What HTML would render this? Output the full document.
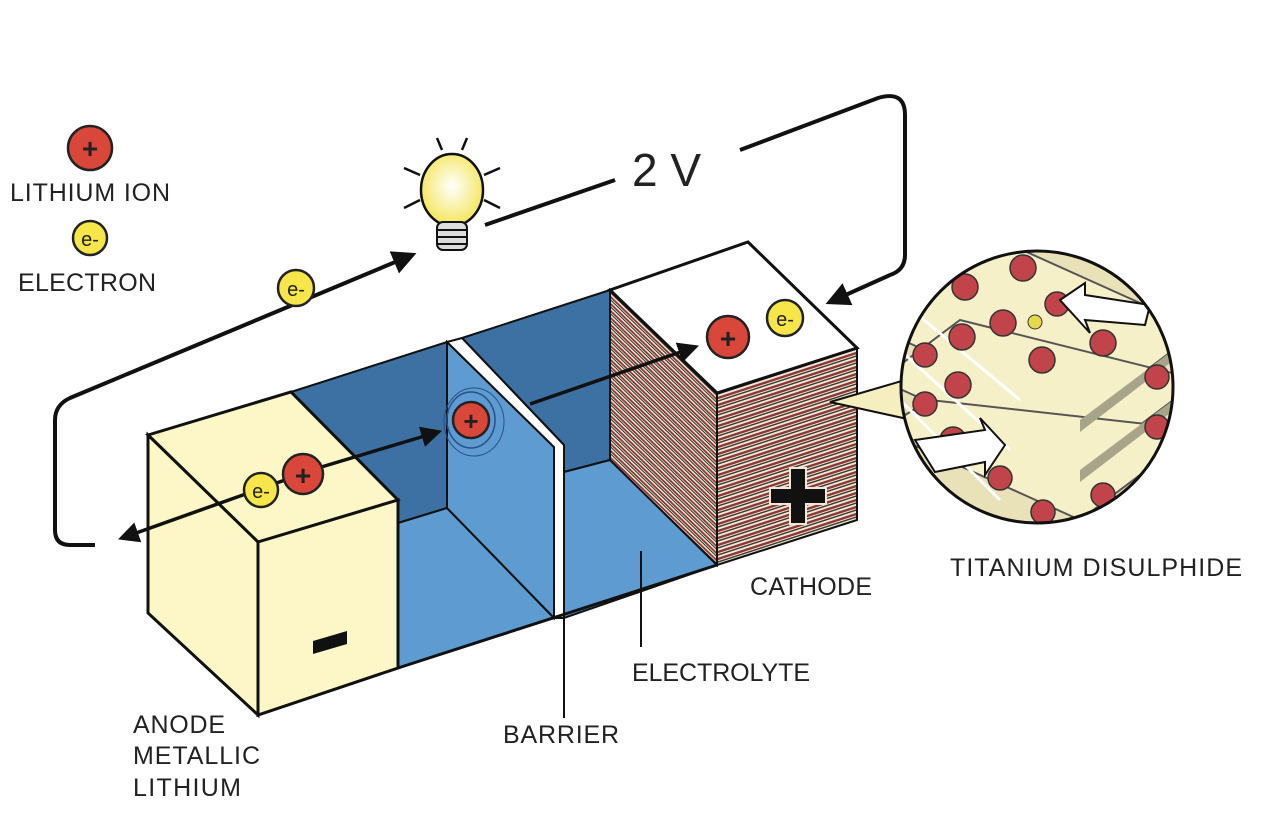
<!DOCTYPE html>
<html><head><meta charset="utf-8"><style>
html,body{margin:0;padding:0;background:#fff;}
svg{display:block;}
text{font-family:"Liberation Sans",sans-serif;fill:#222;}
</style></head><body>
<svg width="1279" height="825" viewBox="0 0 1279 825" xmlns="http://www.w3.org/2000/svg">
<defs>
<pattern id="hstripe" width="8" height="7" patternUnits="userSpaceOnUse" patternTransform="skewY(-18)">
<rect width="8" height="7" fill="#f3e6d8"/><rect y="0" width="8" height="2.5" fill="#8a3a33"/><rect y="3.5" width="8" height="1.5" fill="#3a3a2e"/>
</pattern>
<pattern id="dstripe" width="8" height="7" patternUnits="userSpaceOnUse" patternTransform="skewY(44)">
<rect width="8" height="7" fill="#f3e6d8"/><rect y="0" width="8" height="2.5" fill="#8a3a33"/><rect y="3.5" width="8" height="1.5" fill="#3a3a2e"/>
</pattern>
<marker id="ah" viewBox="0 0 10 10" refX="8" refY="5" markerWidth="6" markerHeight="6" orient="auto-start-reverse"><path d="M0,0 L10,5 L0,10 z" fill="#111"/></marker>
<radialGradient id="bulb" cx="0.5" cy="0.45" r="0.55"><stop offset="0" stop-color="#fff"/><stop offset="1" stop-color="#f4e65a"/></radialGradient>
<clipPath id="mag"><circle cx="1037" cy="387" r="136"/></clipPath>
</defs>

<!-- legend -->
<circle cx="90" cy="148" r="22" fill="#d8473a" stroke="#222" stroke-width="2.5"/>
<text x="90" y="158" font-size="28" text-anchor="middle" font-weight="bold" style="fill:#222">+</text>
<text x="10" y="201" font-size="25" textLength="160">LITHIUM ION</text>
<circle cx="90" cy="238" r="17" fill="#f6e64a" stroke="#222" stroke-width="2.5"/>
<text x="90" y="246" font-size="20" text-anchor="middle">e-</text>
<text x="18" y="291" font-size="25" textLength="138">ELECTRON</text>

<!-- circuit -->
<path d="M95,545 L70,545 Q55,545 55,530 L55,420 Q55,405 70,398 L412,255" fill="none" stroke="#111" stroke-width="4" marker-end="url(#ah)"/>
<path d="M485,225 L615,180" fill="none" stroke="#111" stroke-width="4"/>
<text x="632" y="186" font-size="46">2 V</text>
<path d="M740,150 L878,98 Q905,90 905,115 L905,255 Q905,270 890,275 L830,302" fill="none" stroke="#111" stroke-width="4" marker-end="url(#ah)"/>
<circle cx="296" cy="288" r="18" fill="#f6e64a" stroke="#222" stroke-width="2.5"/>
<text x="296" y="296" font-size="20" text-anchor="middle">e-</text>

<!-- bulb -->
<g stroke="#111" stroke-width="2.5">
<line x1="442" y1="150" x2="437" y2="138"/><line x1="462" y1="150" x2="467" y2="138"/>
<line x1="420" y1="175" x2="404" y2="168"/><line x1="484" y1="175" x2="500" y2="168"/>
<line x1="420" y1="200" x2="404" y2="208"/><line x1="484" y1="200" x2="500" y2="208"/>
</g>
<ellipse cx="452" cy="190" rx="31" ry="36" fill="url(#bulb)" stroke="#111" stroke-width="2.5"/>
<rect x="437" y="222" width="30" height="28" rx="6" fill="#ddd" stroke="#111" stroke-width="2"/>
<g stroke="#111" stroke-width="2"><line x1="437" y1="230" x2="467" y2="230"/><line x1="437" y1="237" x2="467" y2="237"/><line x1="437" y1="244" x2="467" y2="244"/></g>

<!-- electrolyte compartments -->
<polygon points="291,392 447,342 447,508 398,523" fill="#3d70a3" stroke="#111" stroke-width="2"/>
<polygon points="398,523 447,508 554,618 398,668" fill="#5d9bd1" stroke="#111" stroke-width="2"/>
<polygon points="462,338 610,290 610,460 564,472 564,445" fill="#3d70a3" stroke="#111" stroke-width="2"/>
<polygon points="564,472 610,460 717,565 564,618" fill="#5d9bd1" stroke="#111" stroke-width="2"/>
<!-- barrier -->
<polygon points="447,342 554,447 554,618 447,508" fill="#5d9bd1" stroke="#111" stroke-width="2"/>
<polygon points="447,342 462,338 564,445 564,618 554,618 554,447" fill="#fff" stroke="#111" stroke-width="2"/>
<ellipse cx="471" cy="420" rx="24" ry="28" fill="none" stroke="#2a4f86" stroke-width="1.5"/>
<ellipse cx="474" cy="422" rx="30" ry="34" fill="none" stroke="#2a4f86" stroke-width="1"/>

<!-- cathode -->
<polygon points="610,290 717,393 717,565 610,460" fill="url(#dstripe)" stroke="#111" stroke-width="2"/>
<polygon points="717,393 857,348 857,520 717,565" fill="url(#hstripe)" stroke="#111" stroke-width="2"/>
<polygon points="610,290 748,242 857,348 717,393" fill="#fff" stroke="#111" stroke-width="3"/>
<path d="M790,468 h16 v20 h20 v16 h-20 v20 h-16 v-20 h-20 v-16 h20z" fill="#111" stroke="#f3e6d8" stroke-width="2"/>

<!-- anode -->
<polygon points="148,435 291,392 398,500 258,542" fill="#fdf6c6" stroke="#111" stroke-width="3"/>
<polygon points="148,435 258,542 258,715 148,613" fill="#fdf6c6" stroke="#111" stroke-width="3"/>
<polygon points="258,542 398,500 398,668 258,715" fill="#fdf6c6" stroke="#111" stroke-width="3"/>
<polygon points="313,641 347,631 347,644 313,654" fill="#111"/>
<line x1="398" y1="668" x2="717" y2="565" stroke="#111" stroke-width="3"/>

<!-- arrows through cell -->
<line x1="285" y1="480" x2="122" y2="538" stroke="#111" stroke-width="3.5" marker-end="url(#ah)"/>
<line x1="318" y1="468" x2="438" y2="432" stroke="#111" stroke-width="3.5" marker-end="url(#ah)"/>
<line x1="530" y1="404" x2="695" y2="347" stroke="#111" stroke-width="3.5" marker-end="url(#ah)"/>

<!-- particles -->
<circle cx="261" cy="490" r="17" fill="#f6e64a" stroke="#222" stroke-width="2.5"/>
<text x="261" y="498" font-size="20" text-anchor="middle">e-</text>
<circle cx="303" cy="474" r="20" fill="#d8473a" stroke="#222" stroke-width="2.5"/>
<text x="303" y="485" font-size="28" text-anchor="middle" font-weight="bold">+</text>
<circle cx="471" cy="420" r="18" fill="#d8473a" stroke="#222" stroke-width="2.5"/>
<text x="471" y="430" font-size="26" text-anchor="middle" font-weight="bold">+</text>
<circle cx="728" cy="337" r="21" fill="#d8473a" stroke="#222" stroke-width="2.5"/>
<text x="728" y="348" font-size="28" text-anchor="middle" font-weight="bold">+</text>
<circle cx="785" cy="318" r="18" fill="#f6e64a" stroke="#222" stroke-width="2.5"/>
<text x="785" y="326" font-size="20" text-anchor="middle">e-</text>

<!-- callout -->
<polygon points="830,402 912,378 912,420" fill="#f5efc0" stroke="#111" stroke-width="2"/>
<!-- magnifier -->
<circle cx="1037" cy="387" r="136" fill="#e9e2b8"/>
<g clip-path="url(#mag)">
<g fill="#f6f0c8" stroke="#555" stroke-width="2">
<polygon points="880,330 1000,240 1200,330 1080,420"/>
<polygon points="880,380 960,320 1200,380 1080,470"/>
<polygon points="880,430 930,400 1200,430 1080,520"/>
</g>
<g fill="#a8a48a"><polygon points="1080,420 1200,330 1200,340 1080,432"/><polygon points="1080,470 1200,380 1200,390 1080,482"/></g>
<g stroke="#fff" stroke-width="3" fill="none"><line x1="900" y1="300" x2="1020" y2="400"/><line x1="900" y1="350" x2="1010" y2="450"/><line x1="900" y1="400" x2="1000" y2="500"/></g>
<g fill="#c0444a" stroke="#333" stroke-width="1.5">
<circle cx="1023" cy="268" r="13"/><circle cx="965" cy="287" r="13"/><circle cx="1003" cy="323" r="13"/><circle cx="1042" cy="360" r="13"/><circle cx="1103" cy="343" r="13"/><circle cx="962" cy="337" r="13"/><circle cx="925" cy="355" r="12"/><circle cx="958" cy="385" r="13"/><circle cx="925" cy="404" r="12"/><circle cx="1157" cy="377" r="12"/><circle cx="1157" cy="427" r="12"/><circle cx="953" cy="440" r="13"/><circle cx="1000" cy="478" r="12"/><circle cx="1043" cy="512" r="12"/><circle cx="1103" cy="495" r="12"/><circle cx="1057" cy="304" r="12"/>
</g>
<circle cx="1035" cy="322" r="7" fill="#e6d84a" stroke="#333"/>
<circle cx="1086" cy="304" r="7" fill="#e6d84a" stroke="#333"/>
<polygon points="1060,300 1085,283 1085,295 1150,305 1145,325 1085,320 1090,333" fill="#fff" stroke="#111" stroke-width="2"/>
<polygon points="915,440 985,430 980,418 1005,445 985,475 985,462 935,472" fill="#fff" stroke="#111" stroke-width="2"/>
</g>
<circle cx="1037" cy="387" r="136" fill="none" stroke="#111" stroke-width="3"/>

<!-- labels -->
<line x1="564" y1="618" x2="564" y2="718" stroke="#111" stroke-width="2"/>
<line x1="641" y1="551" x2="641" y2="647" stroke="#111" stroke-width="2"/>
<text x="950" y="576" font-size="25" textLength="292">TITANIUM DISULPHIDE</text>
<text x="750" y="595" font-size="25" textLength="122">CATHODE</text>
<text x="632" y="681" font-size="25" textLength="178">ELECTROLYTE</text>
<text x="503" y="743" font-size="25" textLength="116">BARRIER</text>
<text x="133" y="733" font-size="25" textLength="92">ANODE</text>
<text x="133" y="764" font-size="25" textLength="127">METALLIC</text>
<text x="133" y="796" font-size="25" textLength="108">LITHIUM</text>
</svg>
</body></html>
